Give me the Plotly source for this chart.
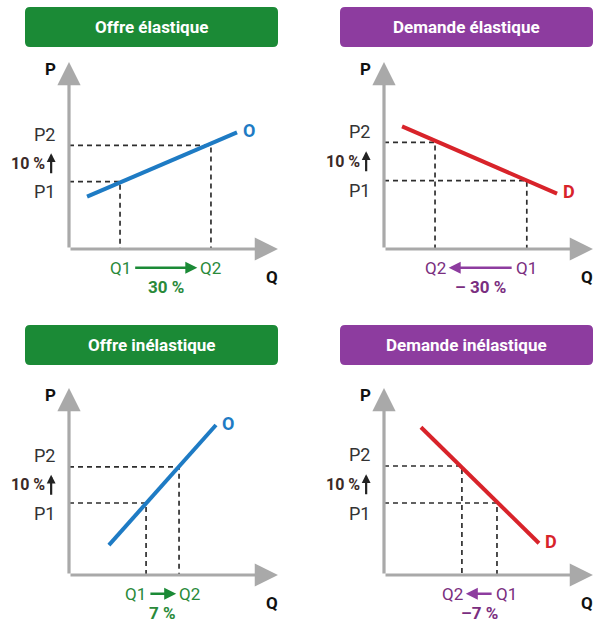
import plotly.graph_objects as go

# panel titles and curve names
titles = ["Offre élastique", "Demande élastique", "Offre inélastique", "Demande inélastique"]
kinds = ["O", "D", "O", "D"]

# curve end points (x0, x1), (y0, y1) for each panel
curve_x = [[0.86, 8.0], [0.86, 8.24], [1.9, 7.0], [1.76, 7.38]]
curve_y = [[2.8, 6.24], [6.56, 2.96], [1.6, 8.02], [7.9, 1.7]]

# price and quantity levels
p1 = [3.6, 3.66, 3.85, 3.85]
p2 = [5.54, 5.7, 5.78, 5.83]
q1 = [2.43, 6.8, 3.67, 5.38]
q2 = [6.76, 2.43, 5.24, 3.71]

price_change = ["10 %", "10 %", "10 %", "10 %"]
qty_change = ["30 %", "– 30 %", "7 %", "–7 %"]

GREEN = "#1b8a36"
PURPLE = "#8d3c9f"
BLUE = "#1e7bc4"
RED = "#d8232a"
W, H = 595, 623
FONT = "Roboto, Open Sans, Arial"

# pixel geometry of each panel: origin x, origin y (from top)
panels = [(69, 249), (384, 249), (69, 575), (384, 575)]
UX, UY = 21.0, 18.7          # pixels per data unit
XR = [-3.2, 10.0]
YR = [-2.5, 10.3]
# title boxes (x0, y0) top-left, size
boxes = [(25, 7), (340, 7), (25, 325), (340, 325)]
BW, BH = 253, 40

fig = go.Figure()
annotations = []
shapes = []

def rounded(x0, y0, x1, y1, r):
    rx, ry = r / W, r / H
    return (f"M {x0+rx},{y0} L {x1-rx},{y0} Q {x1},{y0} {x1},{y0+ry} "
            f"L {x1},{y1-ry} Q {x1},{y1} {x1-rx},{y1} L {x0+rx},{y1} "
            f"Q {x0},{y1} {x0},{y1-ry} L {x0},{y0+ry} Q {x0},{y0} {x0+rx},{y0} Z")

for i in range(4):
    n = "" if i == 0 else str(i + 1)
    xa, ya = "x" + n, "y" + n
    ox, oy = panels[i]
    fig.update_layout(**{
        "xaxis" + n: dict(domain=[(ox + XR[0] * UX) / W, min(1, (ox + XR[1] * UX) / W)], range=XR,
                          visible=False, anchor=ya, fixedrange=True),
        "yaxis" + n: dict(domain=[1 - (oy - YR[0] * UY) / H, 1 - (oy - YR[1] * UY) / H], range=YR,
                          visible=False, anchor=xa, fixedrange=True),
    })
    offer = kinds[i] == "O"
    col = BLUE if offer else RED
    acc = GREEN if offer else PURPLE
    qcol = "#2a8a3a" if offer else "#7a2e80"

    # dashed guides
    for q, p in [(q1[i], p1[i]), (q2[i], p2[i])]:
        fig.add_trace(go.Scatter(x=[0, q, q], y=[p, p, 0], xaxis=xa, yaxis=ya, mode="lines",
                                 line=dict(color="#2e2e2e", width=1.7, dash="5px,4px"),
                                 hoverinfo="skip", showlegend=False))
    # curve
    fig.add_trace(go.Scatter(x=curve_x[i], y=curve_y[i], xaxis=xa, yaxis=ya, mode="lines",
                             line=dict(color=col, width=4), hoverinfo="skip", showlegend=False))

    # axes with arrows
    for (x0, y0, x1, y1) in [(0, 0, 9.95, 0), (0, 0, 0, 10)]:
        annotations.append(dict(x=x1, y=y1, ax=x0, ay=y0, xref=xa, yref=ya, axref=xa, ayref=ya,
                                showarrow=True, arrowhead=2, arrowsize=1.45, arrowwidth=3.2,
                                arrowcolor="#a9a9a9", text=""))
    # axis names
    annotations.append(dict(x=-0.9, y=9.6, xref=xa, yref=ya, text="<b>P</b>", showarrow=False,
                            font=dict(family=FONT, size=17, color="#111")))
    annotations.append(dict(x=9.65, y=-1.5, xref=xa, yref=ya, text="<b>Q</b>", showarrow=False,
                            font=dict(family=FONT, size=17, color="#111")))
    # curve name
    ex = curve_x[i][1]
    ey = curve_y[i][1]
    annotations.append(dict(x=ex + 0.55, y=ey + 0.1, xref=xa, yref=ya, text="<b>" + kinds[i] + "</b>",
                            showarrow=False, font=dict(family=FONT, size=18, color=col)))
    # price labels
    annotations.append(dict(x=-1.15, y=p2[i] + 0.6, xref=xa, yref=ya, text="P2", showarrow=False,
                            font=dict(family=FONT, size=18, color="#333")))
    annotations.append(dict(x=-1.15, y=p1[i] - 0.55, xref=xa, yref=ya, text="P1", showarrow=False,
                            font=dict(family=FONT, size=18, color="#333")))
    pm = (p1[i] + p2[i]) / 2
    annotations.append(dict(x=-1.05, y=pm, xref=xa, yref=ya, xanchor="right",
                            text="<b>" + price_change[i] + "</b>",
                            showarrow=False, font=dict(family=FONT, size=16, color="#3b2a26")))
    annotations.append(dict(x=-0.85, y=pm + 0.55, ax=-0.85, ay=pm - 0.6, xref=xa, yref=ya,
                            axref=xa, ayref=ya, showarrow=True, arrowhead=2, arrowsize=0.8,
                            arrowwidth=2.2, arrowcolor="#222", text=""))
    # quantity labels
    lo, hi = min(q1[i], q2[i]), max(q1[i], q2[i])
    mid = (lo + hi) / 2
    lc = min(lo, mid - 1.3)
    rc = max(hi, mid + 1.3)
    left_lbl, right_lbl = ("Q1", "Q2") if offer else ("Q2", "Q1")
    annotations.append(dict(x=lc, y=-1.0, xref=xa, yref=ya, text=left_lbl, showarrow=False,
                            font=dict(family=FONT, size=17, color=qcol)))
    annotations.append(dict(x=rc, y=-1.0, xref=xa, yref=ya, text=right_lbl, showarrow=False,
                            font=dict(family=FONT, size=17, color=qcol)))
    a0, a1 = lc + 0.65, rc - 0.65
    if not offer:
        a0, a1 = a1, a0
    annotations.append(dict(x=a1, y=-1.0, ax=a0, ay=-1.0, xref=xa, yref=ya, axref=xa, ayref=ya,
                            showarrow=True, arrowhead=2, arrowsize=1.0, arrowwidth=2.4,
                            arrowcolor=acc, text=""))
    annotations.append(dict(x=(lc + rc) / 2, y=-2.05, xref=xa, yref=ya,
                            text="<b>" + qty_change[i] + "</b>", showarrow=False,
                            font=dict(family=FONT, size=17, color=qcol)))

    # title box
    bx, by = boxes[i]
    shapes.append(dict(type="path", xref="paper", yref="paper",
                       path=rounded(bx / W, 1 - (by + BH) / H, (bx + BW) / W, 1 - by / H, 5),
                       fillcolor=GREEN if offer else PURPLE, line=dict(width=0), layer="above"))
    annotations.append(dict(x=(bx + BW / 2) / W, y=1 - (by + BH / 2) / H, xref="paper", yref="paper",
                            xanchor="center", yanchor="middle",
                            text="<b>" + titles[i] + "</b>", showarrow=False,
                            font=dict(family=FONT, size=17, color="white")))

fig.update_layout(width=W, height=H, margin=dict(l=0, r=0, t=0, b=0),
                  paper_bgcolor="white", plot_bgcolor="rgba(0,0,0,0)",
                  annotations=annotations, shapes=shapes, showlegend=False)
fig.write_html("out.html", config={"displayModeBar": False},
               post_script="document.body.style.margin='0';")
